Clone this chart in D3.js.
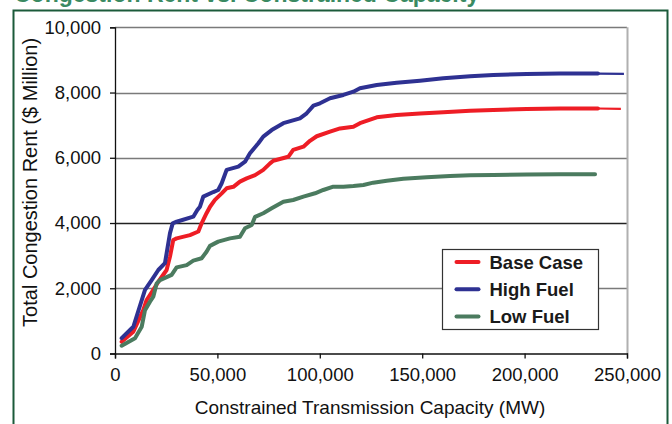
<!DOCTYPE html>
<html>
<head>
<meta charset="utf-8">
<script src="https://cdn.jsdelivr.net/npm/d3@7"></script>
<style>
  html, body { margin: 0; padding: 0; background: #ffffff; }
  svg { display: block; font-family: "Liberation Sans", Arial, sans-serif; }
</style>
</head>
<body>
<svg id="chart" width="672" height="424"></svg>
<script>
// ---- Data (capacity in MW, rent in $ Million) ----
const seriesNames = ["Base Case", "High Fuel", "Low Fuel"];
const seriesColors = ["#ee1d25", "#2e3192", "#4b7b5f"];

const baseCase = [
  [3250,360],[8950,670],[13800,1330],[15450,1640],[18700,1950],[21150,2200],[25200,2560],
  [26850,2970],[28450,3480],[30100,3530],[36600,3630],[40700,3740],[42300,3990],[44700,4300],
  [46400,4500],[48800,4710],[52100,4910],[54500,5065],[57800,5110],[61000,5270],[64300,5370],
  [68400,5470],[72400,5630],[75700,5830],[77300,5910],[84600,6030],[87000,6240],[92000,6340],
  [95200,6520],[98500,6660],[105000,6800],[109900,6900],[116400,6950],[119600,7060],[127800,7240],
  [137500,7310],[148900,7360],[160300,7395],[173400,7440],[184700,7466],[201000,7496],
  [217300,7510],[235800,7510],[247000,7500]
];
const highFuel = [
  [3250,470],[8950,820],[14650,1950],[17900,2250],[21150,2560],[24400,2770],[26850,3690],
  [28170,3990],[30100,4040],[38230,4195],[40200,4400],[41500,4500],[43100,4810],[48000,4950],
  [50400,5013],[52100,5220],[54500,5630],[60200,5730],[63500,5880],[65900,6140],[70000,6445],
  [72400,6650],[76500,6850],[82200,7060],[90300,7210],[93600,7364],[96900,7600],[100100,7670],
  [105000,7824],[111500,7926],[116400,8027],[119600,8130],[127800,8232],[137500,8303],
  [148900,8365],[160300,8437],[173400,8500],[184700,8539],[201000,8572],[217300,8580],
  [235800,8580],[248500,8575]
];
const lowFuel = [
  [3250,240],[9770,470],[13040,820],[14650,1330],[17090,1590],[18700,1740],[20360,2150],
  [21970,2250],[27650,2410],[30100,2640],[35000,2710],[38230,2845],[42300,2920],[44700,3120],
  [46400,3300],[50400,3430],[56150,3530],[61000,3580],[63500,3840],[66750,3940],[68400,4190],
  [72400,4300],[76500,4450],[82200,4650],[87000,4706],[92000,4808],[97700,4912],[101700,5013],
  [106600,5114],[111500,5114],[116400,5135],[121300,5166],[126100,5237],[132700,5298],
  [140800,5360],[152200,5402],[163600,5442],[173400,5463],[184700,5473],[201000,5490],
  [217300,5494],[234400,5494]
];
const xTicks = [0, 50000, 100000, 150000, 200000, 250000];
const yTicks = [0, 2000, 4000, 6000, 8000, 10000];
const titleText = "Congestion Rent vs. Constrained Capacity";
const xTitle = "Constrained Transmission Capacity (MW)";
const yTitle = "Total Congestion Rent ($ Million)";

// ---- Layout ----
const svg = d3.select("#chart");
const plot = { left: 115, right: 627, top: 27.3, bottom: 353.5 };
const x = d3.scaleLinear().domain([0, 250000]).range([plot.left, plot.right]);
const y = d3.scaleLinear().domain([0, 10000]).range([plot.bottom, plot.top]);
const fmt = d3.format(",");
const thickLimit = 236000;

// title (cut off at top, as in the reference)
svg.append("text")
  .attr("x", 14).attr("y", 1.5)
  .attr("fill", "#3a8a62")
  .attr("font-weight", "bold")
  .attr("font-size", 23)
  .text(titleText);

// outer frame
svg.append("rect")
  .attr("x", 13.5).attr("y", 10.5)
  .attr("width", 654).attr("height", 430)
  .attr("fill", "none")
  .attr("stroke", "#1b5a3a")
  .attr("stroke-width", 2);

// gridlines
svg.append("g").selectAll("line")
  .data(yTicks.filter(d => d > 0))
  .join("line")
  .attr("x1", plot.left).attr("x2", plot.right)
  .attr("y1", d => Math.round(y(d)) + 0.5).attr("y2", d => Math.round(y(d)) + 0.5)
  .attr("stroke", d => d === 4000 ? "#222" : "#7a7a7a")
  .attr("stroke-width", 1.3);

// right plot border
svg.append("line")
  .attr("x1", plot.right + 0.5).attr("x2", plot.right + 0.5)
  .attr("y1", plot.top).attr("y2", plot.bottom)
  .attr("stroke", "#b0b0b0").attr("stroke-width", 2);

// axes
const yAxis = d3.axisLeft(y).tickValues(yTicks).tickSize(5).tickFormat(fmt);
const gy = svg.append("g").attr("transform", `translate(${plot.left},0)`).call(yAxis);
gy.select(".domain").attr("stroke", "#111").attr("stroke-width", 1.3);
gy.selectAll(".tick line").attr("stroke", "#111").attr("stroke-width", 1.3);
gy.selectAll(".tick text")
  .attr("x", -14)
  .attr("font-size", 18.5)
  .attr("font-family", "Liberation Sans, Arial, sans-serif")
  .attr("fill", "#111");

const xAxis = d3.axisBottom(x).tickValues(xTicks).tickSize(5).tickFormat(fmt);
const gx = svg.append("g").attr("transform", `translate(0,${plot.bottom})`).call(xAxis);
gx.select(".domain").attr("stroke", "#111").attr("stroke-width", 1.3);
gx.selectAll(".tick line").attr("stroke", "#111").attr("stroke-width", 1.3);
gx.selectAll(".tick text")
  .attr("y", 14)
  .attr("font-size", 18.5)
  .attr("font-family", "Liberation Sans, Arial, sans-serif")
  .attr("fill", "#111");

// axis titles
svg.append("text")
  .attr("x", 370).attr("y", 414)
  .attr("text-anchor", "middle")
  .attr("font-size", 19)
  .attr("fill", "#111")
  .text(xTitle);

svg.append("text")
  .attr("transform", `translate(37,${(plot.top + plot.bottom) / 2 - 8}) rotate(-90)`)
  .attr("text-anchor", "middle")
  .attr("font-size", 20)
  .attr("fill", "#111")
  .text(yTitle);

// lines
const line = d3.line().x(d => x(d[0])).y(d => y(d[1])).curve(d3.curveLinear);
const allSeries = [baseCase, highFuel, lowFuel];
const linesG = svg.append("g");
allSeries.forEach((data, i) => {
  const thick = data.filter(d => d[0] <= thickLimit);
  const tail = data.filter(d => d[0] >= thickLimit);
  if (tail.length) tail.unshift(thick[thick.length - 1]);
  linesG.append("path")
    .attr("d", line(thick))
    .attr("fill", "none")
    .attr("stroke", seriesColors[i])
    .attr("stroke-width", 4)
    .attr("stroke-linejoin", "round")
    .attr("stroke-linecap", "round");
  if (tail.length > 1) {
    linesG.append("path")
      .attr("d", line(tail))
      .attr("fill", "none")
      .attr("stroke", seriesColors[i])
      .attr("stroke-width", 2.2);
  }
});

// legend
const lg = svg.append("g").attr("transform", "translate(442.5,249.5)");
lg.append("rect")
  .attr("width", 156).attr("height", 80)
  .attr("fill", "#fff")
  .attr("stroke", "#333").attr("stroke-width", 1.2);
seriesNames.forEach((name, i) => {
  const cy = 12.5 + i * 27.2;
  lg.append("line")
    .attr("x1", 14).attr("x2", 36)
    .attr("y1", cy).attr("y2", cy)
    .attr("stroke", seriesColors[i]).attr("stroke-width", 4)
    .attr("stroke-linecap", "round");
  lg.append("text")
    .attr("x", 47).attr("y", cy + 6.5)
    .attr("font-size", 18.5)
    .attr("font-weight", "bold")
    .attr("fill", "#1a1a1a")
    .text(name);
});
</script>
</body>
</html>
